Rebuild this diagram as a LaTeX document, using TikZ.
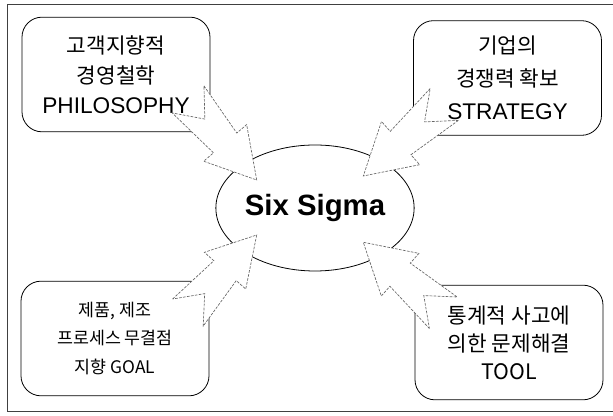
\documentclass[tikz,border=0pt]{standalone}
\usepackage{fontspec}
\setmainfont{Noto Sans CJK KR}
\newfontfamily\latfont{Liberation Sans}
\usetikzlibrary{calc,shapes.geometric}

% big dashed arrow from tail coordinate #1 to tip coordinate #2
\newcommand{\bigarrow}[2]{%
  \path ($(#2)!0.46!(#1)$) coordinate (hb);
  \draw[fat arrow] ($(#1)!0.197!90:(#2)$)
    -- ($(hb)!0.314!90:(#2)$) -- ($(hb)!0.58!90:(#2)$)
    -- (#2)
    -- ($(hb)!0.58!-90:(#2)$) -- ($(hb)!0.314!-90:(#2)$)
    -- ($(#1)!0.197!-90:(#2)$) -- ($(#1)!0.244!(#2)$) -- cycle;
}

\begin{document}
\begin{tikzpicture}[x=0.75pt,y=0.75pt,
    idea/.style={draw, line width=0.6pt, rounded corners=15pt, minimum width=141pt,
      minimum height=86pt, align=center, inner sep=0pt},
    hub/.style={draw, ellipse, line width=0.6pt, minimum width=132pt,
      minimum height=94.5pt, inner sep=0pt},
    fat arrow/.style={fill=white, draw=black!60, line width=0.5pt,
      dash pattern=on 2pt off 1pt}]
    \useasboundingbox (0,0) rectangle (613,416);
    \draw[line width=0.6pt, black!75] (613,412) -| (7,5) -- (613,5);

    \node[idea, font=\fontsize{16}{22.5}\selectfont] (philo) at (116,341.5)
      {고객지향적\\경영철학\\{\latfont\fontsize{17}{22.5}\selectfont PHILOSOPHY}};
    \node[idea, font=\fontsize{16}{24.75}\selectfont] (strat) at (507.5,338)
      {기업의\\경쟁력 확보\\{\latfont\fontsize{17}{24.75}\selectfont STRATEGY}};
    \node[idea, font=\fontsize{13}{21.4}\selectfont] (goal) at (115,77.5)
      {제품, 제조\\프로세스 무결점\\지향 GOAL};
    \node[idea, font=\fontsize{16}{21}\selectfont] (tool) at (509,73.5)
      {통계적 사고에\\의한 문제해결\\TOOL};

    \node[hub, font=\latfont\bfseries\fontsize{22}{26}\selectfont] (six) at (315,208) {Six Sigma};

    \coordinate (philo tail) at ($(philo.south east)+(-22.3,32.8)$);
    \coordinate (strat tail) at ($(strat.south west)+(31.2,31.3)$);
    \coordinate (goal tail) at ($(goal.north east)+(-21.5,-31.8)$);
    \coordinate (tool tail) at ($(tool.north west)+(28.7,-28)$);

    \coordinate (philo tip) at ($(six.center)+(-58.3,28)$);
    \coordinate (strat tip) at ($(six.center)+(48.3,32)$);
    \coordinate (goal tip) at ($(six.center)+(-58.3,-27)$);
    \coordinate (tool tip) at ($(six.center)+(48.3,-34.3)$);

    \bigarrow{philo tail}{philo tip}
    \bigarrow{strat tail}{strat tip}
    \bigarrow{goal tail}{goal tip}
    \bigarrow{tool tail}{tool tip}
  \end{tikzpicture}
\end{document}
